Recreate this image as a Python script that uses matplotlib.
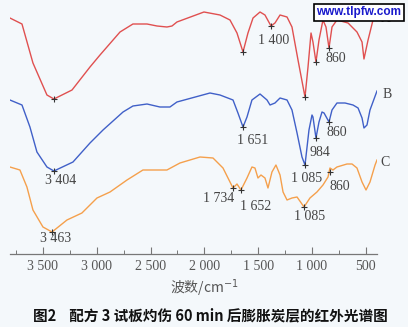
import matplotlib
matplotlib.use('Agg')
import matplotlib.pyplot as plt

plt.rcParams['font.family'] = ['Liberation Serif', 'Noto Sans CJK SC', 'DejaVu Sans']

# spectrum A (red)
a_wn = [3807, 3695, 3593, 3463, 3398, 3230, 3063, 2970, 2784, 2664, 2533, 2440, 2348, 2301,
        2255, 2004, 1855, 1762, 1697, 1641, 1595, 1548, 1483, 1437, 1381, 1344, 1297, 1232,
        1186, 1130, 1065, 1037, 1009, 991, 963, 935, 898, 870, 842, 814, 768, 665, 582, 535,
        517, 479, 433, 396]
a_t = [236, 230, 191, 159, 155, 164, 187, 199, 222, 230, 230, 228, 227, 228,
       232, 242, 239, 234, 221, 202, 221, 236, 242, 239, 228, 231, 239, 237,
       227, 194, 157, 187, 221, 212, 192, 214, 234, 227, 206, 227, 234, 231, 222, 212,
       195, 214, 234, 244]

# spectrum B (blue)
b_wn = [3807, 3695, 3621, 3556, 3463, 3398, 3221, 3063, 2942, 2756, 2664, 2533, 2413, 2320,
        2255, 1948, 1855, 1734, 1688, 1641, 1604, 1558, 1483, 1418, 1390, 1344, 1297, 1232,
        1186, 1139, 1093, 1065, 1028, 1000, 991, 963, 935, 907, 888, 842, 814, 768, 693, 619,
        572, 535, 517, 489, 461, 396]
b_t = [154, 149, 127, 102, 87, 83, 92, 111, 124, 142, 148, 150, 147, 147,
       152, 161, 159, 154, 141, 127, 137, 154, 160, 154, 149, 151, 156, 154,
       144, 121, 97, 89, 124, 139, 137, 116, 132, 142, 141, 132, 144, 151, 151, 149,
       146, 136, 126, 129, 144, 163]

# spectrum C (orange)
c_wn = [3807, 3714, 3649, 3593, 3500, 3416, 3277, 3138, 2998, 2877, 2719, 2571, 2348, 2227,
        2041, 1920, 1827, 1762, 1734, 1697, 1660, 1604, 1558, 1530, 1502, 1474, 1437, 1409,
        1372, 1335, 1297, 1269, 1232, 1186, 1139, 1074, 1019, 954, 898, 851, 833, 805, 768,
        675, 628, 582, 535, 498, 461, 414, 396]
c_t = [87, 84, 67, 44, 27, 22, 34, 41, 56, 62, 74, 84, 84, 91,
       97, 96, 86, 72, 66, 70, 64, 76, 87, 86, 76, 79, 76, 66,
       82, 89, 79, 62, 54, 56, 57, 47, 56, 62, 69, 77, 86, 84, 87,
       90, 90, 86, 72, 64, 72, 89, 94]

# marked peaks
peak_wn = [3398, 1641, 1381, 1065, 963, 842,
           3398, 1641, 1065, 963, 842,
           3416, 1734, 1660, 1074, 833]
peak_t = [155, 202, 228, 157, 192, 206,
          83, 127, 89, 116, 132,
          22, 66, 64, 47, 82]

# peak labels
label_text = ['1 400', '860', '3 404', '1 651', '984', '860', '1 085',
              '3 463', '1 734', '1 652', '1 085', '860']
label_wn = [1353, 777, 3333, 1548, 926, 768, 1046, 3379, 1864, 1520, 1019, 740]
label_t = [213, 196, 73, 113, 102, 121, 76, 15, 56, 48, 37, 67]

tick_vals = [3500, 3000, 2500, 2000, 1500, 1000, 500]
tick_text = ['3 500', '3 000', '2 500', '2 000', '1 500', '1 000', '500']

bg = '#f4f8fb'
fig = plt.figure(figsize=(4.08, 3.27), dpi=100, facecolor=bg)
ax = fig.add_axes([9.6 / 408, 73 / 327, 367.5 / 408, 254 / 327])
ax.set_facecolor(bg)

ax.plot(a_wn, a_t, color='#e05050', lw=1.0)
ax.plot(b_wn, b_t, color='#4060c8', lw=1.0)
ax.plot(c_wn, c_t, color='#f4a04c', lw=1.0)
ax.plot(peak_wn, peak_t, ls='none', marker='+', ms=4, mew=0.8, color='#333333')

for s, x, y in zip(label_text, label_wn, label_t):
    ax.text(x, y, s, ha='center', va='center', fontsize=10, color='#444444')

for s, x, y in zip(['A', 'B', 'C'], [312, 303, 321], [236, 160, 92]):
    ax.text(x, y, s, ha='center', va='center', fontsize=10, color='#444444', clip_on=False)

ax.set_xlim(3810, 395)
ax.set_ylim(0, 254)
for sp in ['top', 'left', 'right']:
    ax.spines[sp].set_visible(False)
ax.spines['bottom'].set_color('#777777')
ax.spines['bottom'].set_linewidth(0.9)
ax.set_yticks([])
ax.set_xticks(tick_vals)
ax.set_xticklabels(tick_text, fontsize=10, color='#555555')
ax.set_xticks([3750, 3250, 2750, 2250, 1750, 1250, 750], minor=True)
ax.tick_params(axis='x', which='major', direction='in', length=5, width=0.8, color='#777777', pad=4)
ax.tick_params(axis='x', which='minor', direction='in', length=3, width=0.7, color='#777777')

fig.text(204 / 408, 1 - 288 / 327, '波数/cm$^{-1}$', ha='center', va='center',
         fontsize=10, color='#555555', family=['Noto Sans CJK SC', 'DejaVu Sans'])
fig.text(210 / 408, 1 - 315 / 327, '图2    配方 3 试板灼伤 60 min 后膨胀炭层的红外光谱图',
         ha='center', va='center', fontsize=10.5, fontweight='bold', color='#111111',
         family=['Noto Sans CJK SC', 'DejaVu Sans'])

# watermark box
fig.text(359 / 408, 1 - 12.5 / 327, 'www.tlpfw.com', ha='center', va='center',
         fontsize=8.5, fontweight='bold', color='#1a1acc', family='Liberation Sans', zorder=10,
         bbox=dict(boxstyle='square,pad=0.25', facecolor='white', edgecolor='black', linewidth=1.2))

fig.savefig('out.png', dpi=100, facecolor=bg)
